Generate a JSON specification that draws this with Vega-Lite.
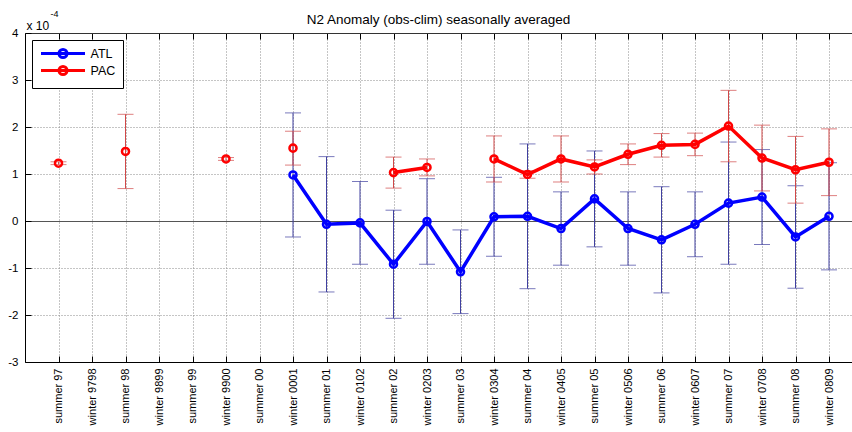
{
  "$schema": "https://vega.github.io/schema/vega-lite/v6.json",
  "width": 827,
  "height": 329,
  "autosize": "none",
  "padding": {"left": 25, "top": 33, "right": 0, "bottom": 70},
  "background": "white",
  "title": {"text": "N2 Anomaly (obs-clim) seasonally averaged", "anchor": "middle", "offset": 6, "dy": 23, "fontSize": 13.5, "fontWeight": "normal", "font": "Liberation Sans", "color": "black"},
  "config": {
    "view": {"stroke": null},
    "font": "Liberation Sans",
    "axis": {"labelFont": "Liberation Sans", "titleFont": "Liberation Sans", "labelColor": "black", "domainColor": "black", "tickColor": "black", "labelFontSize": 11, "gridColor": "#8a8a8a", "gridDash": [1, 2]},
    "legend": {"orient": "top-left", "offset": 7, "padding": 7, "strokeColor": "black", "fillColor": "white", "cornerRadius": 0, "symbolType": "M-4.4,0L4.4,0M0.8,0A0.8,0.8,0,1,1,-0.8,0A0.8,0.8,0,1,1,0.8,0", "symbolSize": 100, "symbolStrokeWidth": 3, "symbolFillColor": "transparent", "symbolOffset": 17.5, "labelOffset": 21, "rowPadding": -6, "labelFontSize": 12.5, "labelFont": "Liberation Sans", "labelColor": "black"}
  },
  "data": {"values": [
    {"season": "winter 0001", "series": "ATL", "value": 0.98, "lo": -0.34, "hi": 2.30},
    {"season": "summer 01", "series": "ATL", "value": -0.07, "lo": -1.51, "hi": 1.37},
    {"season": "winter 0102", "series": "ATL", "value": -0.04, "lo": -0.92, "hi": 0.84},
    {"season": "summer 02", "series": "ATL", "value": -0.92, "lo": -2.07, "hi": 0.23},
    {"season": "winter 0203", "series": "ATL", "value": -0.01, "lo": -0.92, "hi": 0.90},
    {"season": "summer 03", "series": "ATL", "value": -1.08, "lo": -1.97, "hi": -0.19},
    {"season": "winter 0304", "series": "ATL", "value": 0.09, "lo": -0.75, "hi": 0.93},
    {"season": "summer 04", "series": "ATL", "value": 0.10, "lo": -1.44, "hi": 1.64},
    {"season": "winter 0405", "series": "ATL", "value": -0.16, "lo": -0.94, "hi": 0.62},
    {"season": "summer 05", "series": "ATL", "value": 0.47, "lo": -0.55, "hi": 1.49},
    {"season": "winter 0506", "series": "ATL", "value": -0.16, "lo": -0.94, "hi": 0.62},
    {"season": "summer 06", "series": "ATL", "value": -0.40, "lo": -1.53, "hi": 0.73},
    {"season": "winter 0607", "series": "ATL", "value": -0.07, "lo": -0.76, "hi": 0.62},
    {"season": "summer 07", "series": "ATL", "value": 0.38, "lo": -0.92, "hi": 1.68},
    {"season": "winter 0708", "series": "ATL", "value": 0.51, "lo": -0.50, "hi": 1.52},
    {"season": "summer 08", "series": "ATL", "value": -0.34, "lo": -1.43, "hi": 0.75},
    {"season": "winter 0809", "series": "ATL", "value": 0.10, "lo": -1.04, "hi": 1.24},
    {"season": "summer 97", "series": "PAC", "value": 1.23, "lo": 1.20, "hi": 1.26},
    {"season": "winter 9798", "series": "PAC", "value": null, "lo": null, "hi": null},
    {"season": "summer 98", "series": "PAC", "value": 1.48, "lo": 0.69, "hi": 2.27},
    {"season": "winter 9899", "series": "PAC", "value": null, "lo": null, "hi": null},
    {"season": "summer 99", "series": "PAC", "value": null, "lo": null, "hi": null},
    {"season": "winter 9900", "series": "PAC", "value": 1.32, "lo": 1.29, "hi": 1.35},
    {"season": "summer 00", "series": "PAC", "value": null, "lo": null, "hi": null},
    {"season": "winter 0001", "series": "PAC", "value": 1.55, "lo": 1.19, "hi": 1.91},
    {"season": "summer 01", "series": "PAC", "value": null, "lo": null, "hi": null},
    {"season": "winter 0102", "series": "PAC", "value": null, "lo": null, "hi": null},
    {"season": "summer 02", "series": "PAC", "value": 1.03, "lo": 0.70, "hi": 1.36},
    {"season": "winter 0203", "series": "PAC", "value": 1.14, "lo": 0.96, "hi": 1.32},
    {"season": "summer 03", "series": "PAC", "value": null, "lo": null, "hi": null},
    {"season": "winter 0304", "series": "PAC", "value": 1.32, "lo": 0.83, "hi": 1.81},
    {"season": "summer 04", "series": "PAC", "value": 0.99, "lo": 0.91, "hi": 1.07},
    {"season": "winter 0405", "series": "PAC", "value": 1.32, "lo": 0.83, "hi": 1.81},
    {"season": "summer 05", "series": "PAC", "value": 1.15, "lo": 1.00, "hi": 1.30},
    {"season": "winter 0506", "series": "PAC", "value": 1.42, "lo": 1.20, "hi": 1.64},
    {"season": "summer 06", "series": "PAC", "value": 1.61, "lo": 1.36, "hi": 1.86},
    {"season": "winter 0607", "series": "PAC", "value": 1.63, "lo": 1.39, "hi": 1.87},
    {"season": "summer 07", "series": "PAC", "value": 2.02, "lo": 1.26, "hi": 2.78},
    {"season": "winter 0708", "series": "PAC", "value": 1.34, "lo": 0.64, "hi": 2.04},
    {"season": "summer 08", "series": "PAC", "value": 1.09, "lo": 0.38, "hi": 1.80},
    {"season": "winter 0809", "series": "PAC", "value": 1.25, "lo": 0.54, "hi": 1.96}
  ]},
  "resolve": {"axis": {"x": "independent"}},
  "layer": [
    {
      "transform": [{"filter": "datum.series === 'ATL'"}],
      "mark": {"type": "rule", "color": "#4040a0", "strokeWidth": 1},
      "encoding": {
        "x": {"field": "season", "type": "nominal", "title": null,
          "scale": {"type": "point", "domain": ["summer 97","winter 9798","summer 98","winter 9899","summer 99","winter 9900","summer 00","winter 0001","summer 01","winter 0102","summer 02","winter 0203","summer 03","winter 0304","summer 04","winter 0405","summer 05","winter 0506","summer 06","winter 0607","summer 07","winter 0708","summer 08","winter 0809"], "padding": 0.8433, "align": 0.593},
          "axis": {"orient": "bottom", "labelAngle": 270, "labelAlign": "right", "labelBaseline": "middle", "tickSize": -6, "labelPadding": 12, "grid": true, "domainWidth": 1}},
        "y": {"field": "lo", "type": "quantitative", "title": "x 10", "scale": {"domain": [-3, 4], "nice": false, "zero": false},
          "axis": {"tickSize": -6, "labelPadding": 13, "labelFontSize": 11.5, "labelExpr": "replace(datum.label, '\u2212', '-')", "grid": true, "gridColor": {"condition": {"test": "datum.value === 0", "value": "#555"}, "value": "#8a8a8a"}, "gridDash": {"condition": {"test": "datum.value === 0", "value": []}, "value": [1, 2]}, "titleAngle": 0, "titleAlign": "left", "titleBaseline": "top", "titleX": 1, "titleY": -13, "titleFontSize": 12, "titleFontWeight": "normal", "titleColor": "black"}},
        "y2": {"field": "hi"}
      }
    },
    {
      "transform": [{"filter": "datum.series === 'ATL'"}],
      "mark": {"type": "tick", "orient": "horizontal", "color": "#4040a0", "size": 16, "thickness": 1},
      "encoding": {
        "x": {"field": "season", "type": "nominal", "title": null, "axis": null,
          "scale": {"type": "point", "domain": ["summer 97","winter 9798","summer 98","winter 9899","summer 99","winter 9900","summer 00","winter 0001","summer 01","winter 0102","summer 02","winter 0203","summer 03","winter 0304","summer 04","winter 0405","summer 05","winter 0506","summer 06","winter 0607","summer 07","winter 0708","summer 08","winter 0809"], "padding": 0.8433, "align": 0.593}},
        "y": {"field": "lo", "type": "quantitative", "title": "x 10"}
      }
    },
    {
      "transform": [{"filter": "datum.series === 'ATL'"}],
      "mark": {"type": "tick", "orient": "horizontal", "color": "#4040a0", "size": 16, "thickness": 1},
      "encoding": {
        "x": {"field": "season", "type": "nominal", "title": null, "axis": null,
          "scale": {"type": "point", "domain": ["summer 97","winter 9798","summer 98","winter 9899","summer 99","winter 9900","summer 00","winter 0001","summer 01","winter 0102","summer 02","winter 0203","summer 03","winter 0304","summer 04","winter 0405","summer 05","winter 0506","summer 06","winter 0607","summer 07","winter 0708","summer 08","winter 0809"], "padding": 0.8433, "align": 0.593}},
        "y": {"field": "hi", "type": "quantitative", "title": "x 10"}
      }
    },
    {
      "transform": [{"filter": "datum.series === 'ATL'"}],
      "mark": {"type": "line", "strokeWidth": 3.5, "invalid": "break-paths-show-domains"},
      "encoding": {
        "x": {"field": "season", "type": "nominal", "title": null, "axis": null,
          "scale": {"type": "point", "domain": ["summer 97","winter 9798","summer 98","winter 9899","summer 99","winter 9900","summer 00","winter 0001","summer 01","winter 0102","summer 02","winter 0203","summer 03","winter 0304","summer 04","winter 0405","summer 05","winter 0506","summer 06","winter 0607","summer 07","winter 0708","summer 08","winter 0809"], "padding": 0.8433, "align": 0.593}},
        "y": {"field": "value", "type": "quantitative", "title": "x 10"},
        "color": {"field": "series", "type": "nominal", "title": null, "scale": {"domain": ["ATL", "PAC"], "range": ["#0000ff", "#ff0000"]}},
        "order": {"value": null}
      }
    },
    {
      "transform": [{"filter": "datum.series === 'ATL'"}],
      "mark": {"type": "point", "filled": false, "size": 50, "strokeWidth": 2.5, "opacity": 1},
      "encoding": {
        "x": {"field": "season", "type": "nominal", "title": null, "axis": null,
          "scale": {"type": "point", "domain": ["summer 97","winter 9798","summer 98","winter 9899","summer 99","winter 9900","summer 00","winter 0001","summer 01","winter 0102","summer 02","winter 0203","summer 03","winter 0304","summer 04","winter 0405","summer 05","winter 0506","summer 06","winter 0607","summer 07","winter 0708","summer 08","winter 0809"], "padding": 0.8433, "align": 0.593}},
        "y": {"field": "value", "type": "quantitative", "title": "x 10"},
        "color": {"field": "series", "type": "nominal", "title": null, "scale": {"domain": ["ATL", "PAC"], "range": ["#0000ff", "#ff0000"]}}
      }
    },
    {
      "transform": [{"filter": "datum.series === 'PAC'"}],
      "mark": {"type": "rule", "color": "#d04848", "strokeWidth": 1},
      "encoding": {
        "x": {"field": "season", "type": "nominal", "title": null, "axis": null,
          "scale": {"type": "point", "domain": ["summer 97","winter 9798","summer 98","winter 9899","summer 99","winter 9900","summer 00","winter 0001","summer 01","winter 0102","summer 02","winter 0203","summer 03","winter 0304","summer 04","winter 0405","summer 05","winter 0506","summer 06","winter 0607","summer 07","winter 0708","summer 08","winter 0809"], "padding": 0.8433, "align": 0.593}},
        "y": {"field": "lo", "type": "quantitative", "title": "x 10"},
        "y2": {"field": "hi"}
      }
    },
    {
      "transform": [{"filter": "datum.series === 'PAC'"}],
      "mark": {"type": "tick", "orient": "horizontal", "color": "#d04848", "size": 16, "thickness": 1},
      "encoding": {
        "x": {"field": "season", "type": "nominal", "title": null, "axis": null,
          "scale": {"type": "point", "domain": ["summer 97","winter 9798","summer 98","winter 9899","summer 99","winter 9900","summer 00","winter 0001","summer 01","winter 0102","summer 02","winter 0203","summer 03","winter 0304","summer 04","winter 0405","summer 05","winter 0506","summer 06","winter 0607","summer 07","winter 0708","summer 08","winter 0809"], "padding": 0.8433, "align": 0.593}},
        "y": {"field": "lo", "type": "quantitative", "title": "x 10"}
      }
    },
    {
      "transform": [{"filter": "datum.series === 'PAC'"}],
      "mark": {"type": "tick", "orient": "horizontal", "color": "#d04848", "size": 16, "thickness": 1},
      "encoding": {
        "x": {"field": "season", "type": "nominal", "title": null, "axis": null,
          "scale": {"type": "point", "domain": ["summer 97","winter 9798","summer 98","winter 9899","summer 99","winter 9900","summer 00","winter 0001","summer 01","winter 0102","summer 02","winter 0203","summer 03","winter 0304","summer 04","winter 0405","summer 05","winter 0506","summer 06","winter 0607","summer 07","winter 0708","summer 08","winter 0809"], "padding": 0.8433, "align": 0.593}},
        "y": {"field": "hi", "type": "quantitative", "title": "x 10"}
      }
    },
    {
      "transform": [{"filter": "datum.series === 'PAC'"}],
      "mark": {"type": "line", "strokeWidth": 3.5, "invalid": "break-paths-show-domains"},
      "encoding": {
        "x": {"field": "season", "type": "nominal", "title": null, "axis": null,
          "scale": {"type": "point", "domain": ["summer 97","winter 9798","summer 98","winter 9899","summer 99","winter 9900","summer 00","winter 0001","summer 01","winter 0102","summer 02","winter 0203","summer 03","winter 0304","summer 04","winter 0405","summer 05","winter 0506","summer 06","winter 0607","summer 07","winter 0708","summer 08","winter 0809"], "padding": 0.8433, "align": 0.593}},
        "y": {"field": "value", "type": "quantitative", "title": "x 10"},
        "color": {"field": "series", "type": "nominal", "title": null, "scale": {"domain": ["ATL", "PAC"], "range": ["#0000ff", "#ff0000"]}},
        "order": {"value": null}
      }
    },
    {
      "transform": [{"filter": "datum.series === 'PAC'"}],
      "mark": {"type": "point", "filled": false, "size": 50, "strokeWidth": 2.5, "opacity": 1},
      "encoding": {
        "x": {"field": "season", "type": "nominal", "title": "-4",
          "scale": {"type": "point", "domain": ["summer 97","winter 9798","summer 98","winter 9899","summer 99","winter 9900","summer 00","winter 0001","summer 01","winter 0102","summer 02","winter 0203","summer 03","winter 0304","summer 04","winter 0405","summer 05","winter 0506","summer 06","winter 0607","summer 07","winter 0708","summer 08","winter 0809"], "padding": 0.8433, "align": 0.593},
          "axis": {"orient": "top", "labels": false, "grid": false, "tickSize": -6, "domainWidth": 1, "domainColor": "#333", "titleFontSize": 9, "titleFontWeight": "normal", "titleColor": "black", "titleAngle": 0, "titleAlign": "left", "titleBaseline": "top", "titleX": 25, "titleY": -24}},
        "y": {"field": "value", "type": "quantitative", "title": "x 10"},
        "color": {"field": "series", "type": "nominal", "title": null, "scale": {"domain": ["ATL", "PAC"], "range": ["#0000ff", "#ff0000"]}}
      }
    }
  ]
}
